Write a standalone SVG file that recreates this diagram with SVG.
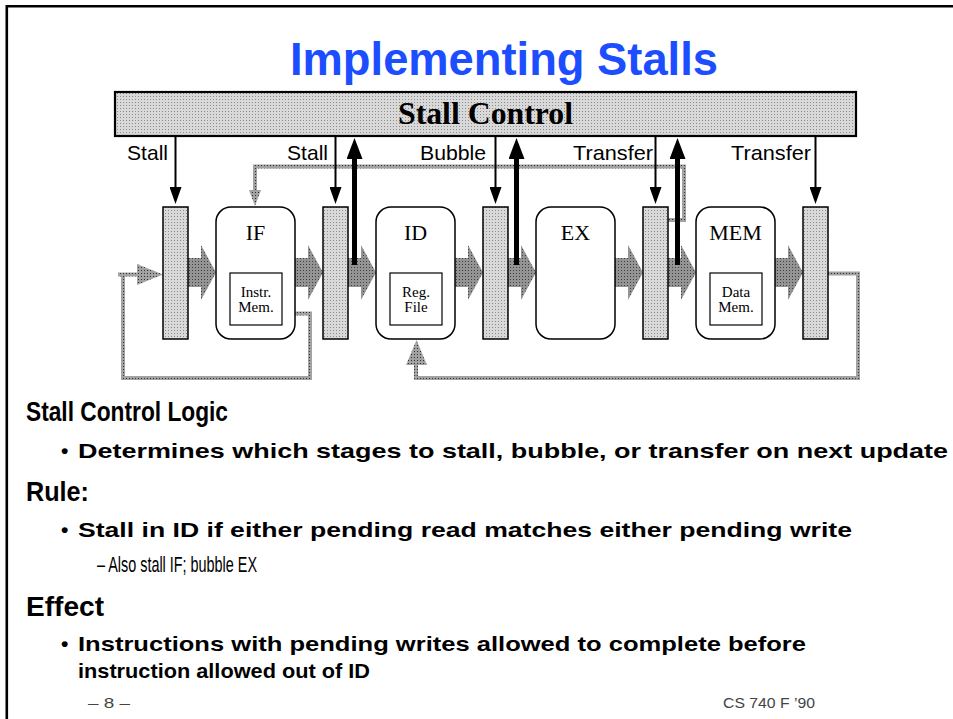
<svg xmlns="http://www.w3.org/2000/svg" width="953" height="719" viewBox="0 0 953 719">
  <defs>
    <!-- fine dither fills -->
    <pattern id="stipLight" width="3" height="3" patternUnits="userSpaceOnUse">
      <rect width="3" height="3" fill="#d9d9d9"/>
      <rect width="1" height="1" fill="#8c8c8c"/>
    </pattern>
    <pattern id="stipDark" width="3" height="3" patternUnits="userSpaceOnUse">
      <rect width="3" height="3" fill="#949494"/>
      <rect width="1" height="1" fill="#404040"/>
    </pattern>
    <pattern id="stipLine" width="3" height="3" patternUnits="userSpaceOnUse">
      <rect width="3" height="3" fill="#a2a2a2"/>
      <rect width="1" height="1" fill="#303030"/>
    </pattern>
    <marker id="headThin" viewBox="0 0 17 12" refX="0" refY="6" markerWidth="17" markerHeight="12" markerUnits="userSpaceOnUse" orient="auto">
      <path d="M0,0 L17,6 L0,12 Z" fill="#000"/>
    </marker>
    <marker id="headThick" viewBox="0 0 21 16" refX="0" refY="8" markerWidth="21" markerHeight="16" markerUnits="userSpaceOnUse" orient="auto">
      <path d="M0,0 L21,8 L0,16 Z" fill="#000"/>
    </marker>
  </defs>
  <style>
    .sans { font-family: "Liberation Sans", Arial, sans-serif; }
    .serif { font-family: "Liberation Serif", "Times New Roman", serif; }
    .reg { fill: url(#stipLight); stroke: #000; stroke-width: 1.5; }
    .stage { fill: #fff; stroke: #000; stroke-width: 1.5; }
    .inner { fill: #fff; stroke: #000; stroke-width: 1.2; }
    .flow { fill: url(#stipDark); stroke: none; }
    .fb { fill: none; stroke: url(#stipLine); stroke-width: 4; }
    .fbHead { fill: url(#stipLine); stroke: none; }
    .ctl { stroke: #000; stroke-width: 2; fill: none; marker-end: url(#headThin); }
    .ack { stroke: #000; stroke-width: 5; fill: none; marker-end: url(#headThick); }
    .lbl { font-size: 21px; fill: #000; }
    .stageName { font-size: 22px; fill: #000; text-anchor: middle; }
    .small { font-size: 15px; fill: #000; text-anchor: middle; }
    .head { font-size: 28px; font-weight: bold; fill: #000; }
    .body { font-size: 21px; font-weight: bold; fill: #000; }
  </style>

  <!-- slide frame -->
  <path d="M6.8 719 V6.3 H953" fill="none" stroke="#000" stroke-width="2.6"/>

  <!-- title -->
  <text class="sans" x="290" y="75" font-size="46" font-weight="bold" fill="#1c4dff" textLength="428" lengthAdjust="spacingAndGlyphs">Implementing Stalls</text>

  <!-- control unit -->
  <g id="stall-control">
    <rect x="115" y="92" width="741" height="44" fill="url(#stipLight)" stroke="#000" stroke-width="2.2"/>
    <text class="serif" x="398" y="124" font-size="31" font-weight="bold" textLength="175" lengthAdjust="spacingAndGlyphs">Stall Control</text>
  </g>

  <!-- signal labels -->
  <g id="signal-labels" class="sans">
    <text class="lbl" x="127" y="160" textLength="41" lengthAdjust="spacingAndGlyphs">Stall</text>
    <text class="lbl" x="287" y="160" textLength="41" lengthAdjust="spacingAndGlyphs">Stall</text>
    <text class="lbl" x="420" y="160" textLength="66" lengthAdjust="spacingAndGlyphs">Bubble</text>
    <text class="lbl" x="573" y="160" textLength="80" lengthAdjust="spacingAndGlyphs">Transfer</text>
    <text class="lbl" x="731" y="160" textLength="80" lengthAdjust="spacingAndGlyphs">Transfer</text>
  </g>

  <!-- connectors: data flow, feedback paths, control signals -->
  <g id="connectors">
    <path class="flow" d="M187 258 H201 V245 L216 272.5 L201 300 V287 H187 Z"/>
    <path class="flow" d="M294 258 H308 V245 L323 272.5 L308 300 V287 H294 Z"/>
    <path class="flow" d="M347 258 H361 V245 L376 272.5 L361 300 V287 H347 Z"/>
    <path class="flow" d="M454 258 H468 V245 L483 272.5 L468 300 V287 H454 Z"/>
    <path class="flow" d="M507 258 H521 V245 L536 272.5 L521 300 V287 H507 Z"/>
    <path class="flow" d="M614 258 H628 V245 L643 272.5 L628 300 V287 H614 Z"/>
    <path class="flow" d="M667 258 H681 V245 L696 272.5 L681 300 V287 H667 Z"/>
    <path class="flow" d="M774 258 H788 V245 L803 272.5 L788 300 V287 H774 Z"/>

    <!-- PC loop back into the fetch register -->
    <path class="fb" d="M295 313.5 H310 V378 H123 V274.5"/>
    <path class="fb" d="M118 274.5 H140"/>
    <polygon class="fbHead" points="137,264 163,274.5 137,285"/>

    <!-- write-back to register file -->
    <path class="fb" d="M828 273.5 H858 V378 H416 V364"/>
    <polygon class="fbHead" points="406,365 416.5,340 427,365"/>

    <!-- branch target back to fetch -->
    <path class="fb" d="M668 220 H684 V166.5 H255 V191"/>
    <polygon class="fbHead" points="249,190 255,206 261,190"/>

    <!-- control signals down to pipeline registers -->
    <path class="ctl" d="M175.5 136 V187"/>
    <path class="ctl" d="M335.5 136 V187"/>
    <path class="ctl" d="M495.5 136 V187"/>
    <path class="ctl" d="M655.5 136 V187"/>
    <path class="ctl" d="M815.5 136 V187"/>

    <!-- status signals up to control -->
    <path class="ack" d="M354.5 265 V159"/>
    <path class="ack" d="M516.5 265 V159"/>
    <path class="ack" d="M677.5 265 V159"/>
  </g>

  <!-- pipeline registers -->
  <g id="reg-pc"><rect class="reg" x="163" y="207" width="25" height="132"/></g>
  <g id="reg-if-id"><rect class="reg" x="323" y="207" width="25" height="132"/></g>
  <g id="reg-id-ex"><rect class="reg" x="483" y="207" width="25" height="132"/></g>
  <g id="reg-ex-mem"><rect class="reg" x="643" y="207" width="25" height="132"/></g>
  <g id="reg-mem-wb"><rect class="reg" x="803" y="207" width="25" height="132"/></g>

  <!-- pipeline stages -->
  <g id="stage-if">
    <rect class="stage" x="216" y="207" width="79" height="132" rx="15"/>
    <text class="serif stageName" x="255.5" y="240">IF</text>
    <rect class="inner" x="230" y="273" width="52" height="52"/>
    <text class="serif small" x="256" y="297">Instr.</text>
    <text class="serif small" x="256" y="312">Mem.</text>
  </g>
  <g id="stage-id">
    <rect class="stage" x="376" y="207" width="79" height="132" rx="15"/>
    <text class="serif stageName" x="415.5" y="240">ID</text>
    <rect class="inner" x="390" y="273" width="52" height="52"/>
    <text class="serif small" x="416" y="297">Reg.</text>
    <text class="serif small" x="416" y="312">File</text>
  </g>
  <g id="stage-ex">
    <rect class="stage" x="536" y="207" width="79" height="132" rx="15"/>
    <text class="serif stageName" x="575.5" y="240">EX</text>
  </g>
  <g id="stage-mem">
    <rect class="stage" x="696" y="207" width="79" height="132" rx="15"/>
    <text class="serif stageName" x="735.5" y="240">MEM</text>
    <rect class="inner" x="710" y="273" width="52" height="52"/>
    <text class="serif small" x="736" y="297">Data</text>
    <text class="serif small" x="736" y="312">Mem.</text>
  </g>

  <!-- notes -->
  <g id="notes" class="sans">
    <text class="head" x="26" y="421" textLength="202" lengthAdjust="spacingAndGlyphs">Stall Control Logic</text>
    <text class="body" x="61" y="458">•</text>
    <text class="body" x="78" y="458" textLength="870" lengthAdjust="spacingAndGlyphs">Determines which stages to stall, bubble, or transfer on next update</text>
    <text class="head" x="26" y="501" textLength="63" lengthAdjust="spacingAndGlyphs">Rule:</text>
    <text class="body" x="61" y="537">•</text>
    <text class="body" x="78" y="537" textLength="774" lengthAdjust="spacingAndGlyphs">Stall in ID if either pending read matches either pending write</text>
    <text x="97" y="572" font-size="22" fill="#000" textLength="160" lengthAdjust="spacingAndGlyphs">– Also stall IF; bubble EX</text>
    <text class="head" x="26" y="616" textLength="78" lengthAdjust="spacingAndGlyphs">Effect</text>
    <text class="body" x="61" y="651">•</text>
    <text class="body" x="78" y="651" textLength="728" lengthAdjust="spacingAndGlyphs">Instructions with pending writes allowed to complete before</text>
    <text class="body" x="78" y="678" textLength="292" lengthAdjust="spacingAndGlyphs">instruction allowed out of ID</text>
    <text x="88" y="708" font-size="15" fill="#444" textLength="42" lengthAdjust="spacingAndGlyphs">– 8 –</text>
    <text x="723" y="708" font-size="15" fill="#444" textLength="92" lengthAdjust="spacingAndGlyphs">CS 740 F ’90</text>
  </g>
</svg>
